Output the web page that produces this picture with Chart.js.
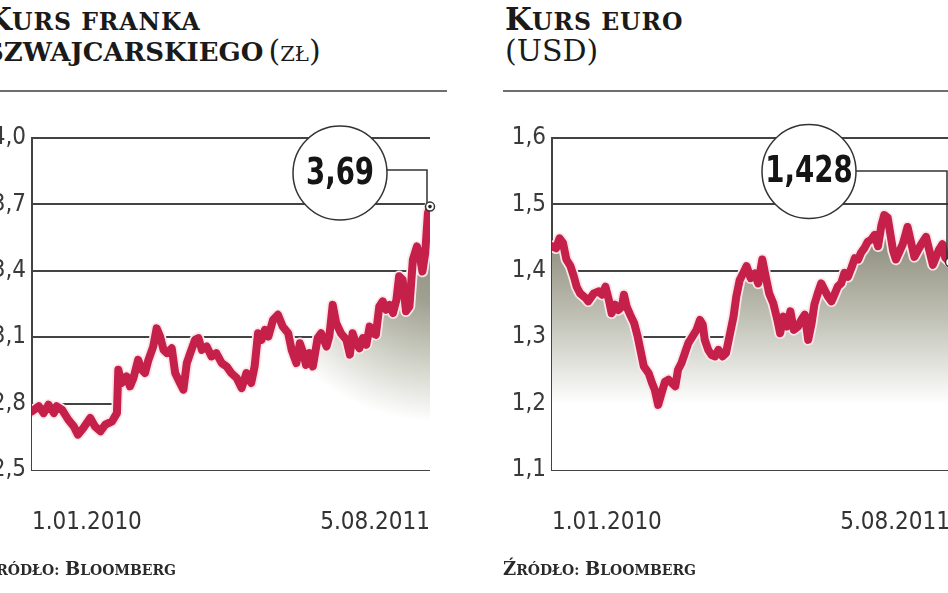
<!DOCTYPE html>
<html><head><meta charset="utf-8">
<script src="https://cdn.jsdelivr.net/npm/chart.js@4.4.1/dist/chart.umd.min.js"></script>
<style>
html,body{margin:0;padding:0;background:#fff;width:948px;height:593px;overflow:hidden;position:relative}
.panel{position:absolute;top:0;width:480px;height:593px}
#pl{left:-20px}
#pr{left:500px}
canvas{position:absolute;left:0;top:0}
.t{position:absolute;left:5px;white-space:nowrap;font-family:'DejaVu Serif',serif;color:#1a1a1a;line-height:34px;height:34px}
.l1{top:2px}
.l2{top:34px}
.b{font-weight:bold}
.cap{font-size:31px}
.sc{font-size:23.5px;text-transform:uppercase;letter-spacing:1px}
.sc2{font-size:26px;text-transform:uppercase}
.unit{font-weight:normal;font-size:30px;font-variant:small-caps}
.usd{font-weight:normal;font-size:30px}
.rule{position:absolute;left:3px;width:464px;top:90px;height:2px;background:#6e6e6e}
.src{position:absolute;left:3px;top:556px;white-space:nowrap;font-family:'DejaVu Serif',serif;font-weight:bold;color:#2a2a2a;line-height:26px}
.src .c{font-size:18px}
.src .s{font-size:14px;text-transform:uppercase}
</style></head>
<body>
<div class="panel" id="pl">
  <div class="t l1 b"><span class="cap">K</span><span class="sc">urs franka</span></div>
  <div class="t l2"><span class="sc2 b">szwajcarskiego</span> <span class="unit">(zł)</span></div>
  <div class="rule"></div>
  <canvas id="cl" width="480" height="593"></canvas>
  <div class="src"><span class="c">Ź</span><span class="s">ródło:</span> <span class="c">B</span><span class="s">loomberg</span></div>
</div>
<div class="panel" id="pr">
  <div class="t l1 b"><span class="cap">K</span><span class="sc">urs euro</span></div>
  <div class="t l2"><span class="usd">(USD)</span></div>
  <div class="rule"></div>
  <canvas id="cr" width="480" height="593"></canvas>
  <div class="src"><span class="c">Ź</span><span class="s">ródło:</span> <span class="c">B</span><span class="s">loomberg</span></div>
</div>
<script>
// ---- data (days since 1.01.2010) ----
const dateLabels = ['1.01.2010', '5.08.2011'];
const periodDays = 581;

const chfDays = [0,10,17,24,32,36,44,53,61,67,
  75,85,92,100,107,117,124,126,131,138,
  143,148,155,160,165,170,177,182,187,192,
  197,204,209,216,221,226,231,238,243,248,
  255,262,269,277,284,291,299,306,313,320,
  325,330,335,340,345,352,359,366,374,379,
  386,391,396,400,405,410,417,422,430,434,
  439,444,451,459,464,468,473,478,483,488,
  493,498,502,507,512,517,522,527,532,536,
  541,546,551,556,562,567,570,574,578,581];
const chfRate = [2.765,2.788,2.757,2.795,2.757,2.788,2.772,2.727,2.697,2.66,
  2.69,2.735,2.697,2.675,2.705,2.72,2.757,2.953,2.893,2.923,
  2.878,2.915,2.998,2.953,2.938,2.998,3.058,3.14,3.103,3.043,
  3.028,3.05,2.938,2.893,2.863,2.983,3.028,3.088,3.096,3.043,
  3.058,3.013,3.028,2.983,2.968,2.938,2.915,2.87,2.938,2.893,
  2.968,3.118,3.088,3.133,3.103,3.179,3.201,3.148,3.118,3.043,
  2.983,3.073,3.028,2.975,3.028,2.968,3.096,3.118,3.058,3.103,
  3.246,3.164,3.118,3.088,3.021,3.118,3.073,3.05,3.096,3.066,
  3.148,3.118,3.111,3.239,3.262,3.224,3.246,3.209,3.269,3.375,
  3.36,3.217,3.239,3.45,3.51,3.45,3.397,3.48,3.661,3.69];
const chfTicks = [2.5, 2.8, 3.1, 3.4, 3.7, 4.0];
const chfLastLabel = '3,69';

const eurDays = [0,6,11,16,21,27,32,36,41,49,
  53,61,68,73,78,83,87,92,97,102,
  105,109,114,120,125,130,134,141,146,150,
  155,160,165,170,175,180,184,189,194,199,
  205,211,216,220,223,228,233,238,243,249,
  254,259,265,269,274,279,284,290,296,301,
  307,312,317,323,329,333,338,343,348,353,
  359,364,369,374,379,383,388,393,398,403,
  408,413,417,422,427,432,437,442,447,451,
  456,461,466,471,476,481,485,490,498,502,
  512,519,529,539,546,556,565,570,574,581];
const eurRate = [1.437,1.434,1.449,1.442,1.417,1.407,1.391,1.376,1.366,1.359,
  1.354,1.366,1.369,1.364,1.376,1.356,1.336,1.349,1.341,1.346,
  1.364,1.346,1.334,1.321,1.301,1.276,1.256,1.246,1.231,1.221,
  1.198,1.216,1.233,1.236,1.231,1.226,1.251,1.261,1.276,1.291,
  1.301,1.311,1.326,1.319,1.296,1.281,1.273,1.271,1.281,1.271,
  1.276,1.301,1.331,1.361,1.386,1.396,1.407,1.389,1.396,1.381,
  1.417,1.391,1.366,1.351,1.326,1.306,1.331,1.316,1.339,1.311,
  1.316,1.326,1.334,1.296,1.321,1.349,1.366,1.381,1.371,1.361,
  1.354,1.366,1.376,1.381,1.397,1.391,1.404,1.419,1.417,1.427,
  1.434,1.444,1.447,1.454,1.437,1.469,1.484,1.48,1.43,1.417,
  1.44,1.466,1.421,1.44,1.451,1.409,1.432,1.44,1.42,1.413];
const eurTicks = [1.1, 1.2, 1.3, 1.4, 1.5, 1.6];
const eurLastLabel = '1,428';

// ---- styling ----
const NARROW = "'Liberation Sans Narrow', 'DejaVu Sans Condensed', sans-serif";
const GRID = '#434343';

const calloutPlugin = {
  id: 'callout',
  afterDatasetsDraw(chart, args, o) {
    const meta = chart.getDatasetMeta(1);
    const last = meta.data[meta.data.length - 1];
    const ctx = chart.ctx, ca = chart.chartArea;
    const cx = ca.left + o.dx, cy = o.cy, r = o.r;
    ctx.save();
    ctx.strokeStyle = '#333';
    ctx.lineWidth = 1.5;
    ctx.beginPath();
    ctx.moveTo(cx + r, o.leaderY);
    ctx.lineTo(last.x - 3, o.leaderY);
    ctx.lineTo(last.x - 3, last.y - 3);
    ctx.stroke();
    ctx.beginPath();
    ctx.arc(cx, cy, r, 0, Math.PI * 2);
    ctx.fillStyle = '#fff';
    ctx.fill();
    ctx.stroke();
    ctx.save();
    ctx.translate(cx, cy + 1);
    ctx.scale(0.83, 1);
    ctx.fillStyle = '#151515';
    ctx.font = 'bold 37px ' + NARROW;
    ctx.textAlign = 'center';
    ctx.textBaseline = 'middle';
    ctx.fillText(o.text, 0, 0);
    ctx.restore();
    ctx.beginPath();
    ctx.arc(last.x, last.y, 4.5, 0, Math.PI * 2);
    ctx.fillStyle = '#fff';
    ctx.fill();
    ctx.lineWidth = 1.5;
    ctx.stroke();
    ctx.beginPath();
    ctx.arc(last.x, last.y, 1.8, 0, Math.PI * 2);
    ctx.fillStyle = '#222';
    ctx.fill();
    ctx.restore();
  }
};

// left panel: shade fades toward the lower left
function fillRadial(c) {
  const chart = c.chart;
  if (!chart.chartArea) return 'rgba(0,0,0,0)';
  const ca = chart.chartArea;
  const g = chart.ctx.createRadialGradient(ca.right + 10, 225, 0, ca.right + 10, 225, 235);
  g.addColorStop(0, '#878877');
  g.addColorStop(0.33, '#a0a191');
  g.addColorStop(0.6, '#d2d3c9');
  g.addColorStop(0.84, '#ffffff');
  g.addColorStop(1, '#ffffff');
  return g;
}
// right panel: vertical shade
function fillLinear(c) {
  const chart = c.chart;
  if (!chart.chartArea) return 'rgba(0,0,0,0)';
  const g = chart.ctx.createLinearGradient(0, 235, 0, 405);
  g.addColorStop(0, '#8a8b7a');
  g.addColorStop(0.5, '#c2c3b7');
  g.addColorStop(1, '#ffffff');
  return g;
}

function makeChart(id, days, rates, ticks, bg, callout) {
  const pts = days.map((d, i) => ({ x: d, y: rates[i] }));
  return new Chart(document.getElementById(id), {
    type: 'line',
    data: {
      datasets: [
        { data: pts, borderColor: '#fbe6ea', borderWidth: 11.5, pointRadius: 0,
          fill: 'start', backgroundColor: bg, order: 2,
          borderJoinStyle: 'round', borderCapStyle: 'round', tension: 0 },
        { data: pts, borderColor: '#c4204a', borderWidth: 8, pointRadius: 0,
          fill: false, order: 1, borderJoinStyle: 'round', borderCapStyle: 'round', tension: 0 }
      ]
    },
    options: {
      responsive: false, animation: false, devicePixelRatio: 1,
      layout: { padding: { left: 0, right: 30, top: 138, bottom: 0 } },
      plugins: { legend: { display: false }, tooltip: { enabled: false }, callout: callout },
      scales: {
        x: {
          type: 'linear', min: 0, max: periodDays,
          afterBuildTicks(s) { s.ticks = [{ value: 0 }, { value: periodDays }]; },
          afterFit(s) { s.height = 123; },
          grid: { display: false }, border: { display: false },
          ticks: { align: 'inner', padding: 30, color: '#333', maxRotation: 0,
            font: { family: NARROW, size: 24 },
            callback: (v, i) => dateLabels[i] }
        },
        y: {
          min: ticks[0], max: ticks[ticks.length - 1],
          afterBuildTicks(s) { s.ticks = ticks.map(v => ({ value: v })); },
          afterFit(s) { s.width = 52; },
          grid: { color: GRID, lineWidth: 2, drawTicks: false },
          border: { display: true, color: GRID, width: 2 },
          ticks: { padding: 6, color: '#3a3a3a', font: { family: NARROW, size: 24 },
            callback: v => v.toFixed(1).replace('.', ',') }
        }
      }
    },
    plugins: [calloutPlugin]
  });
}

makeChart('cl', chfDays, chfRate, chfTicks, fillRadial,
  { text: chfLastLabel, dx: 308, cy: 173, r: 47, leaderY: 170 });
makeChart('cr', eurDays, eurRate, eurTicks, fillLinear,
  { text: eurLastLabel, dx: 257, cy: 171.5, r: 47, leaderY: 171 });
</script>
</body></html>
